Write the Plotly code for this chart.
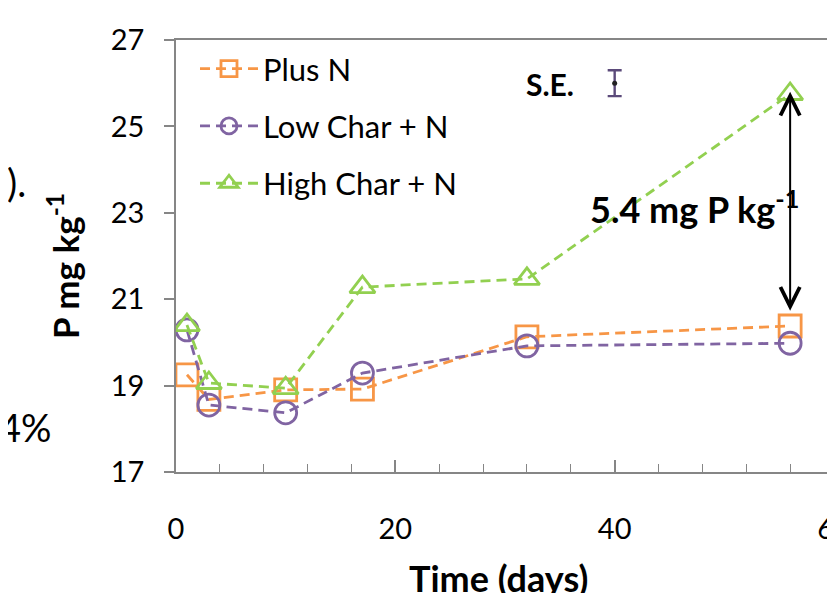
import plotly.graph_objects as go

days = [1, 3, 10, 17, 32, 56]
plus_n = [19.25, 18.68, 18.9, 18.92, 20.13, 20.38]
low_char = [20.29, 18.55, 18.37, 19.29, 19.92, 19.98]
high_char = [20.4, 19.06, 18.94, 21.28, 21.47, 25.75]
series_names = ["Plus N", "Low Char + N", "High Char + N"]
colors = ["#F79646", "#8064A2", "#92D050"]
symbols = ["square-open", "circle-open", "triangle-up-open"]

se_x = [40]
se_y = [26.0]
se_val = [0.3]
diff_label = "5.4 mg P kg<sup>-1</sup>"
arrow_top = 25.8
arrow_bottom = 20.7

FONT = "Lato, 'Open Sans', sans-serif"
OFF = 8  # default page body margin
# plot area in screen pixels
SL, ST, SR, SB = 176, 40, 834, 472
W, H = 835 - OFF, 593 - OFF


def px(xs):
    return (xs - SL) / (SR - SL)


def py(ys):
    return 1 - (ys - ST) / (SB - ST)


fig = go.Figure()
for i, (name, vals) in enumerate(zip(series_names, [plus_n, low_char, high_char])):
    fig.add_trace(go.Scatter(
        x=days, y=vals, name=name, mode="lines+markers",
        legendgroup=name,
        line=dict(color=colors[i], width=2.8, dash="10px,6px"),
        marker=dict(symbol=symbols[i], size=22, color=colors[i],
                    line=dict(width=2.8, color=colors[i])),
    ))

# S.E. bar
fig.add_trace(go.Scatter(
    x=se_x, y=se_y, mode="markers", showlegend=False,
    marker=dict(size=5, color="#222222"),
    error_y=dict(type="data", array=se_val, color="#5B4A7A", thickness=2.4, width=7),
))

fig.add_annotation(x=56, y=arrow_top, ax=56, ay=arrow_bottom, xref="x", yref="y",
                   axref="x", ayref="y", text="", showarrow=True,
                   arrowhead=5, startarrowhead=5, arrowside="end+start",
                   arrowwidth=2, arrowcolor="black", arrowsize=1.9, startarrowsize=1.9)

fig.add_annotation(x=47.3, y=23.14, xref="x", yref="y", text=diff_label, showarrow=False,
                   font=dict(family=FONT, size=36, color="black", weight="bold"))
fig.add_annotation(x=34.1, y=25.98, xref="x", yref="y", text="S.E.", showarrow=False,
                   font=dict(family=FONT, size=30, color="black", weight="bold"))

# axis titles
fig.add_annotation(x=px(63), y=py(266), xref="paper", yref="paper",
                   text="<b>P mg kg<sup>-1</sup></b>", textangle=-90, showarrow=False,
                   xanchor="center", yanchor="middle",
                   font=dict(family=FONT, size=35, color="black"))
fig.add_annotation(x=px(498), y=py(578), xref="paper", yref="paper",
                   text="<b>Time (days)</b>", showarrow=False,
                   xanchor="center", yanchor="middle",
                   font=dict(family=FONT, size=36, color="black"))

# slide remnants on the left
fig.add_annotation(x=px(28), y=py(182), xref="paper", yref="paper", text=").",
                   showarrow=False, xanchor="right", yanchor="middle",
                   font=dict(family=FONT, size=38, color="black"))
fig.add_annotation(x=px(54), y=py(427), xref="paper", yref="paper", text="4%",
                   showarrow=False, xanchor="right", yanchor="middle",
                   font=dict(family=FONT, size=38, color="black"))

fig.add_shape(type="line", xref="paper", yref="paper", x0=1, x1=1, y0=0, y1=1,
              line=dict(color="#222222", width=1.5))

fig.update_layout(
    width=W, height=H,
    margin=dict(l=SL - OFF, r=W - (SR - OFF), t=ST - OFF, b=H - (SB - OFF), autoexpand=False),
    paper_bgcolor="white", plot_bgcolor="white",
    font=dict(family=FONT, color="black"),
    showlegend=True,
    legend=dict(x=px(195), y=py(42), xanchor="left", yanchor="top",
                font=dict(family=FONT, size=31, color="black"),
                bgcolor="rgba(0,0,0,0)", tracegroupgap=14, itemwidth=58),
    xaxis=dict(range=[0, 60], dtick=20, tick0=0, ticks="inside", ticklen=12,
               tickcolor="#868686", tickwidth=1.5, automargin=False,
               ticklabeloverflow="allow",
               minor=dict(dtick=4, ticks="inside", ticklen=8, tickcolor="#868686", tickwidth=1.3),
               showline=True, linecolor="#868686", linewidth=1.8, mirror=True,
               showgrid=False, zeroline=False,
               tickfont=dict(family=FONT, size=29, color="black"),
               ticklabelstandoff=30),
    yaxis=dict(range=[17, 27], dtick=2, tick0=17, ticks="outside", ticklen=10,
               tickcolor="#868686", tickwidth=1.5, automargin=False,
               showline=True, linecolor="#868686", linewidth=1.8, mirror=True,
               showgrid=False, zeroline=False,
               tickfont=dict(family=FONT, size=29, color="black"),
               ticklabelstandoff=14),
)

fig.write_html("out.html")
